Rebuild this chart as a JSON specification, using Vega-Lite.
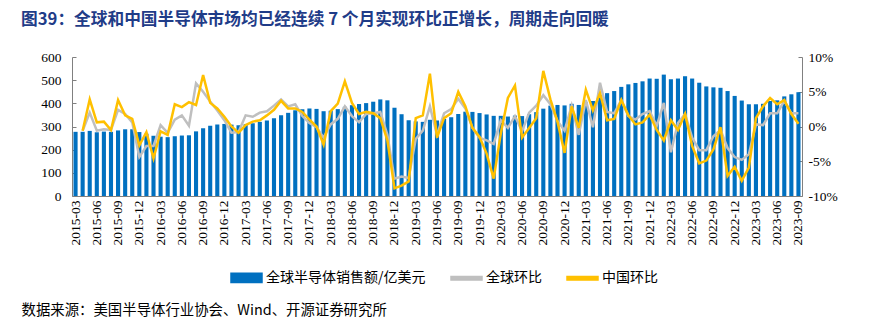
{
  "$schema": "https://vega.github.io/schema/vega-lite/v6.json",
  "width": 730,
  "height": 139,
  "autosize": "none",
  "padding": {"left": 72, "top": 57, "right": 74, "bottom": 127},
  "background": "white",
  "title": {
    "text": "图39：全球和中国半导体市场均已经连续 7 个月实现环比正增长，周期走向回暖",
    "anchor": "start",
    "frame": "group",
    "dx": -51,
    "offset": 21,
    "font": "Noto Sans CJK SC",
    "fontSize": 16.7,
    "fontWeight": "bold",
    "color": "#1f3c88"
  },
  "config": {
    "view": {"stroke": null},
    "axis": {
      "labelFont": "Liberation Serif",
      "labelFontSize": 13.5,
      "labelColor": "#000000",
      "domainColor": "#808080",
      "tickColor": "#808080",
      "grid": false
    },
    "legend": {"title": null}
  },
  "data": {"values": [
    {"m":"2015-03","v":277,"g":null,"c":null},
    {"m":"2015-04","v":277,"g":-0.6,"c":-0.6},
    {"m":"2015-05","v":281,"g":2.0,"c":3.9},
    {"m":"2015-06","v":275,"g":-0.6,"c":0.6},
    {"m":"2015-07","v":278,"g":-0.4,"c":0.7},
    {"m":"2015-08","v":277,"g":-0.5,"c":-0.5},
    {"m":"2015-09","v":283,"g":2.4,"c":3.8},
    {"m":"2015-10","v":288,"g":1.8,"c":1.6},
    {"m":"2015-11","v":288,"g":0.6,"c":1.1},
    {"m":"2015-12","v":276,"g":-4.4,"c":-2.7},
    {"m":"2016-01","v":269,"g":-2.8,"c":-0.8},
    {"m":"2016-02","v":260,"g":-2.8,"c":-4.6},
    {"m":"2016-03","v":256,"g":0.2,"c":-0.7},
    {"m":"2016-04","v":254,"g":-0.9,"c":-1.2},
    {"m":"2016-05","v":258,"g":1.0,"c":3.2},
    {"m":"2016-06","v":261,"g":1.6,"c":2.8},
    {"m":"2016-07","v":262,"g":0.1,"c":3.5},
    {"m":"2016-08","v":279,"g":6.2,"c":3.1},
    {"m":"2016-09","v":292,"g":5.0,"c":7.4},
    {"m":"2016-10","v":303,"g":3.6,"c":3.4},
    {"m":"2016-11","v":309,"g":2.3,"c":2.6},
    {"m":"2016-12","v":311,"g":0.9,"c":1.4},
    {"m":"2017-01","v":308,"g":-0.9,"c":0.0},
    {"m":"2017-02","v":305,"g":-0.8,"c":-0.9},
    {"m":"2017-03","v":310,"g":1.6,"c":0.2},
    {"m":"2017-04","v":314,"g":1.4,"c":0.7},
    {"m":"2017-05","v":320,"g":2.0,"c":0.9},
    {"m":"2017-06","v":326,"g":2.2,"c":1.6},
    {"m":"2017-07","v":336,"g":3.0,"c":2.4},
    {"m":"2017-08","v":349,"g":3.9,"c":3.7},
    {"m":"2017-09","v":359,"g":2.9,"c":2.6},
    {"m":"2017-10","v":370,"g":3.2,"c":2.6},
    {"m":"2017-11","v":374,"g":1.5,"c":2.1},
    {"m":"2017-12","v":378,"g":0.5,"c":1.0},
    {"m":"2018-01","v":376,"g":-0.1,"c":0.0},
    {"m":"2018-02","v":366,"g":-1.6,"c":-2.6},
    {"m":"2018-03","v":368,"g":0.3,"c":2.2},
    {"m":"2018-04","v":375,"g":1.1,"c":3.3},
    {"m":"2018-05","v":385,"g":2.9,"c":6.5},
    {"m":"2018-06","v":392,"g":1.5,"c":3.4},
    {"m":"2018-07","v":397,"g":0.6,"c":1.8},
    {"m":"2018-08","v":401,"g":1.8,"c":2.1},
    {"m":"2018-09","v":407,"g":1.9,"c":1.9},
    {"m":"2018-10","v":417,"g":2.1,"c":1.2},
    {"m":"2018-11","v":413,"g":-1.2,"c":-2.0},
    {"m":"2018-12","v":381,"g":-7.5,"c":-8.9},
    {"m":"2019-01","v":353,"g":-7.2,"c":-8.5},
    {"m":"2019-02","v":327,"g":-7.4,"c":-7.9},
    {"m":"2019-03","v":322,"g":-1.8,"c":1.2},
    {"m":"2019-04","v":320,"g":-0.6,"c":1.6},
    {"m":"2019-05","v":329,"g":2.9,"c":7.6},
    {"m":"2019-06","v":326,"g":-1.2,"c":-1.6},
    {"m":"2019-07","v":333,"g":1.9,"c":1.2},
    {"m":"2019-08","v":340,"g":2.5,"c":1.9},
    {"m":"2019-09","v":354,"g":4.0,"c":5.0},
    {"m":"2019-10","v":364,"g":2.6,"c":2.9},
    {"m":"2019-11","v":363,"g":-0.2,"c":-0.2},
    {"m":"2019-12","v":358,"g":-1.6,"c":-1.5},
    {"m":"2020-01","v":352,"g":-2.0,"c":-3.9},
    {"m":"2020-02","v":346,"g":-2.5,"c":-7.5},
    {"m":"2020-03","v":346,"g":0.9,"c":-1.0},
    {"m":"2020-04","v":343,"g":-0.2,"c":4.1},
    {"m":"2020-05","v":347,"g":1.5,"c":5.9},
    {"m":"2020-06","v":345,"g":-0.7,"c":-1.6},
    {"m":"2020-07","v":353,"g":2.0,"c":-0.2},
    {"m":"2020-08","v":362,"g":3.0,"c":1.2},
    {"m":"2020-09","v":377,"g":4.5,"c":8.0},
    {"m":"2020-10","v":390,"g":3.2,"c":3.9},
    {"m":"2020-11","v":393,"g":0.8,"c":0.7},
    {"m":"2020-12","v":391,"g":-0.6,"c":-3.8},
    {"m":"2021-01","v":398,"g":3.0,"c":2.9},
    {"m":"2021-02","v":393,"g":-1.2,"c":-0.2},
    {"m":"2021-03","v":404,"g":3.8,"c":5.3},
    {"m":"2021-04","v":410,"g":-0.1,"c":2.3},
    {"m":"2021-05","v":435,"g":6.3,"c":4.8},
    {"m":"2021-06","v":444,"g":2.1,"c":0.9},
    {"m":"2021-07","v":453,"g":1.9,"c":1.1},
    {"m":"2021-08","v":471,"g":3.8,"c":3.8},
    {"m":"2021-09","v":482,"g":1.5,"c":1.6},
    {"m":"2021-10","v":488,"g":1.0,"c":0.3},
    {"m":"2021-11","v":495,"g":1.8,"c":0.6},
    {"m":"2021-12","v":507,"g":2.2,"c":1.7},
    {"m":"2022-01","v":506,"g":0.1,"c":-0.5},
    {"m":"2022-02","v":524,"g":3.4,"c":-2.0},
    {"m":"2022-03","v":504,"g":-3.7,"c":0.9},
    {"m":"2022-04","v":507,"g":0.5,"c":-0.5},
    {"m":"2022-05","v":517,"g":1.8,"c":1.8},
    {"m":"2022-06","v":507,"g":-1.6,"c":-2.8},
    {"m":"2022-07","v":489,"g":-3.4,"c":-5.3},
    {"m":"2022-08","v":473,"g":-3.4,"c":-4.9},
    {"m":"2022-09","v":469,"g":-1.4,"c":-3.3},
    {"m":"2022-10","v":467,"g":-0.5,"c":-0.1},
    {"m":"2022-11","v":453,"g":-3.1,"c":-7.1},
    {"m":"2022-12","v":432,"g":-4.4,"c":-5.8},
    {"m":"2023-01","v":412,"g":-4.8,"c":-7.8},
    {"m":"2023-02","v":396,"g":-4.0,"c":-5.9},
    {"m":"2023-03","v":396,"g":0.3,"c":1.2},
    {"m":"2023-04","v":398,"g":0.2,"c":2.9},
    {"m":"2023-05","v":410,"g":1.9,"c":4.1},
    {"m":"2023-06","v":413,"g":1.9,"c":3.2},
    {"m":"2023-07","v":430,"g":3.7,"c":3.8},
    {"m":"2023-08","v":439,"g":1.9,"c":1.8},
    {"m":"2023-09","v":448,"g":1.9,"c":0.4}
  ]},
  "encoding": {
    "x": {
      "field": "m",
      "type": "ordinal",
      "sort": null,
      "scale": {"paddingInner": 0.42, "paddingOuter": 0.21},
      "axis": {
        "values": ["2015-03","2015-06","2015-09","2015-12","2016-03","2016-06","2016-09","2016-12","2017-03","2017-06","2017-09","2017-12","2018-03","2018-06","2018-09","2018-12","2019-03","2019-06","2019-09","2019-12","2020-03","2020-06","2020-09","2020-12","2021-03","2021-06","2021-09","2021-12","2022-03","2022-06","2022-09","2022-12","2023-03","2023-06","2023-09"],
        "labelAngle": -90,
        "labelAlign": "right",
        "labelBaseline": "middle",
        "tickSize": -3,
        "labelPadding": 7,
        "title": "数据来源：美国半导体行业协会、Wind、开源证券研究所",
        "titleX": -51,
        "titleY": 114,
        "titleAlign": "left",
        "titleAnchor": "start",
        "titleBaseline": "middle",
        "titleAngle": 0,
        "titleFont": "Noto Sans CJK SC",
        "titleFontSize": 14.4,
        "titleFontWeight": "normal",
        "titleColor": "#000000"
      }
    }
  },
  "layer": [
    {
      "mark": {"type": "bar", "color": "#0070c0"},
      "encoding": {
        "y": {
          "field": "v",
          "type": "quantitative",
          "scale": {"domain": [0, 600], "nice": false},
          "axis": {
            "orient": "left",
            "values": [0, 100, 200, 300, 400, 500, 600],
            "title": null,
            "tickSize": -4,
            "labelPadding": 15
          }
        },
        "color": {
          "datum": "sales",
          "scale": {"domain": ["sales", "g", "c"], "range": ["#0070c0", "#bfbfbf", "#ffc000"]},
          "legend": {
            "orient": "none",
            "legendX": 158,
            "legendY": 204,
            "direction": "horizontal",
            "title": null,
            "labelFont": "Noto Sans CJK SC",
            "labelFontSize": 14,
            "labelColor": "#000000",
            "labelOffset": 3,
            "columnPadding": 22,
            "symbolSize": 961,
            "labelExpr": "datum.label == 'sales' ? '全球半导体销售额/亿美元' : datum.label == 'g' ? '全球环比' : '中国环比'",
            "encode": {
              "symbols": {
                "update": {
                  "shape": {"signal": "datum.value == 'sales' ? 'M-1,-0.3H1V0.3H-1Z' : 'M-1,-0.12H1V0.12H-1Z'"},
                  "fill": {"scale": "color", "field": "value"},
                  "stroke": {"value": "transparent"},
                  "opacity": {"value": 1}
                }
              }
            }
          }
        }
      }
    },
    {
      "transform": [{"fold": ["g", "c"], "as": ["series", "pct"]}],
      "mark": {"type": "line", "strokeWidth": 2.5, "strokeJoin": "miter"},
      "encoding": {
        "y": {
          "field": "pct",
          "type": "quantitative",
          "scale": {"domain": [-10, 10], "nice": false, "zero": false},
          "axis": {
            "orient": "right",
            "values": [-10, -5, 0, 5, 10],
            "labelExpr": "datum.value + '%'",
            "title": null,
            "tickSize": -4,
            "labelPadding": 10
          }
        },
        "color": {"field": "series", "type": "nominal", "legend": {"title": null}},
        "detail": {"field": "series"}
      }
    }
  ],
  "resolve": {"scale": {"y": "independent"}}
}
